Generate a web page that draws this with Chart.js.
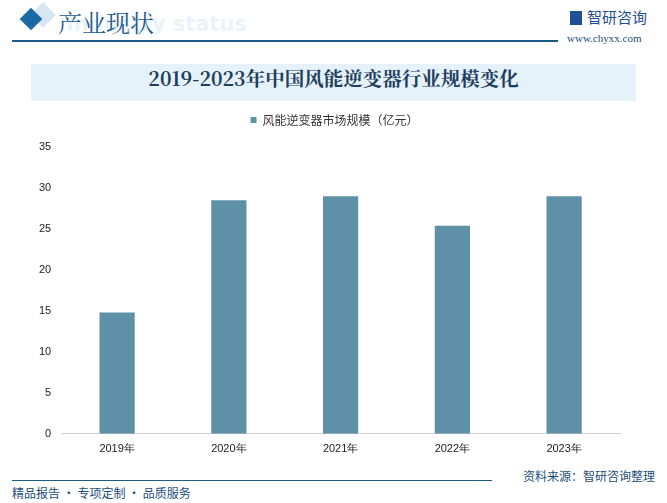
<!DOCTYPE html>
<html>
<head>
<meta charset="utf-8">
<script src="https://cdn.jsdelivr.net/npm/chart.js@4.4.0/dist/chart.umd.min.js"></script>
<style>
  body { margin: 0; background: #fff; font-family: "Noto Sans CJK SC", sans-serif; }
  #page { position: relative; width: 667px; height: 503px; overflow: hidden; background: #fff; }
  .abs { position: absolute; white-space: nowrap; }
  #chartBox { position: absolute; left: 0; top: 88px; width: 667px; height: 377px; }
</style>
</head>
<body>
<div id="page">
  <!-- header -->
  <div class="abs" style="left:34px;top:6px;width:18px;height:18px;background:#d6e6f2;transform:rotate(45deg);"></div>
  <div class="abs" style="left:23px;top:11px;width:16px;height:16px;background:#1a6aa8;transform:rotate(45deg);"></div>
  <div class="abs" style="left:66px;top:12px;font:bold 21px 'DejaVu Sans',sans-serif;color:#eaf3fa;">Industry status</div>
  <div class="abs" style="left:58px;top:4px;font:24px 'Noto Serif CJK SC','Noto Sans CJK SC',serif;color:#1c5a8c;">产业现状</div>
  <div class="abs" style="left:12px;top:40px;width:546px;height:2px;background:#1d5a86;"></div>
  <div class="abs" style="left:570px;top:11px;width:12px;height:14px;background:#1f4f95;"></div>
  <div class="abs" style="left:587px;top:6px;font:15px 'Noto Sans CJK SC',sans-serif;color:#1f4f95;">智研咨询</div>
  <div class="abs" style="left:567px;top:32px;font:11px 'Liberation Serif',serif;color:#1d4e7a;">www.chyxx.com</div>

  <!-- title banner -->
  <div class="abs" style="left:31px;top:64px;width:605px;height:37px;background:#e6f2fa;"></div>
  <div class="abs" style="left:31px;top:64px;width:605px;height:37px;line-height:37px;text-align:center;font:bold 19.5px 'Noto Serif CJK SC','Noto Sans CJK SC',serif;color:#1f3f5f;">2019-2023年中国风能逆变器行业规模变化</div>

  <div id="chartBox"><canvas id="barChart"></canvas></div>

  <!-- footer -->
  <div class="abs" style="left:12px;top:480px;width:480px;height:1px;background:#1d5a86;"></div>
  <div class="abs" style="left:12px;top:484px;font:12px 'Noto Sans CJK SC',sans-serif;color:#1d4e7a;">精品报告 · 专项定制 · 品质服务</div>
  <div class="abs" style="right:12px;top:467px;font:12px 'Noto Sans CJK SC',sans-serif;color:#1d4e7a;">资料来源：智研咨询整理</div>
</div>

<script>
const years = ['2019年', '2020年', '2021年', '2022年', '2023年'];
const marketSize = [14.8, 28.5, 29.0, 25.4, 29.0];
const seriesName = '风能逆变器市场规模（亿元）';
const yTicks = [0, 5, 10, 15, 20, 25, 30, 35];

let barChart;

// extra space under the legend, and centre it on the page rather than the padded area
const legendTweak = {
    id: 'legendTweak',
    beforeInit(chart) {
        const fit = chart.legend.fit;
        chart.legend.fit = function () {
            fit.bind(chart.legend)();
            this.height += 11;
        };
    },
    afterLayout(chart) {
        chart.legend.left += 10;
        chart.legend.right += 10;
    },
};

function init() {
    const ctx = document.getElementById('barChart').getContext('2d');
    barChart = new Chart(ctx, {
        type: 'bar',
        data: {
            labels: years,
            datasets: [{
                label: seriesName,
                data: marketSize,
                backgroundColor: '#5e90a7',
                borderWidth: 0,
                barPercentage: 1,
                categoryPercentage: 0.315,
            }],
        },
        options: {
            responsive: true,
            maintainAspectRatio: false,
            animation: false,
            layout: { padding: { left: 29, right: 47, top: 4, bottom: 0 } },
            plugins: {
                tooltip: { enabled: false },
                legend: {
                    labels: {
                        boxWidth: 6,
                        boxHeight: 6,
                        padding: 22,
                        color: '#333',
                        font: { size: 12, family: 'Noto Sans CJK SC' },
                    },
                },
            },
            scales: {
                x: {
                    grid: { display: false, drawTicks: false },
                    border: { color: '#d0d0d0' },
                    ticks: { color: '#222', font: { size: 11, family: 'Liberation Sans' }, padding: 9 },
                },
                y: {
                    min: 0,
                    max: 35,
                    afterBuildTicks: axis => { axis.ticks = yTicks.map(v => ({ value: v })); },
                    grid: { display: false, drawTicks: false },
                    border: { display: false },
                    ticks: { color: '#222', font: { size: 11, family: 'Liberation Sans' }, padding: 10 },
                },
            },
        },
        plugins: [legendTweak],
    });
}

window.onload = init;
</script>
</body>
</html>
